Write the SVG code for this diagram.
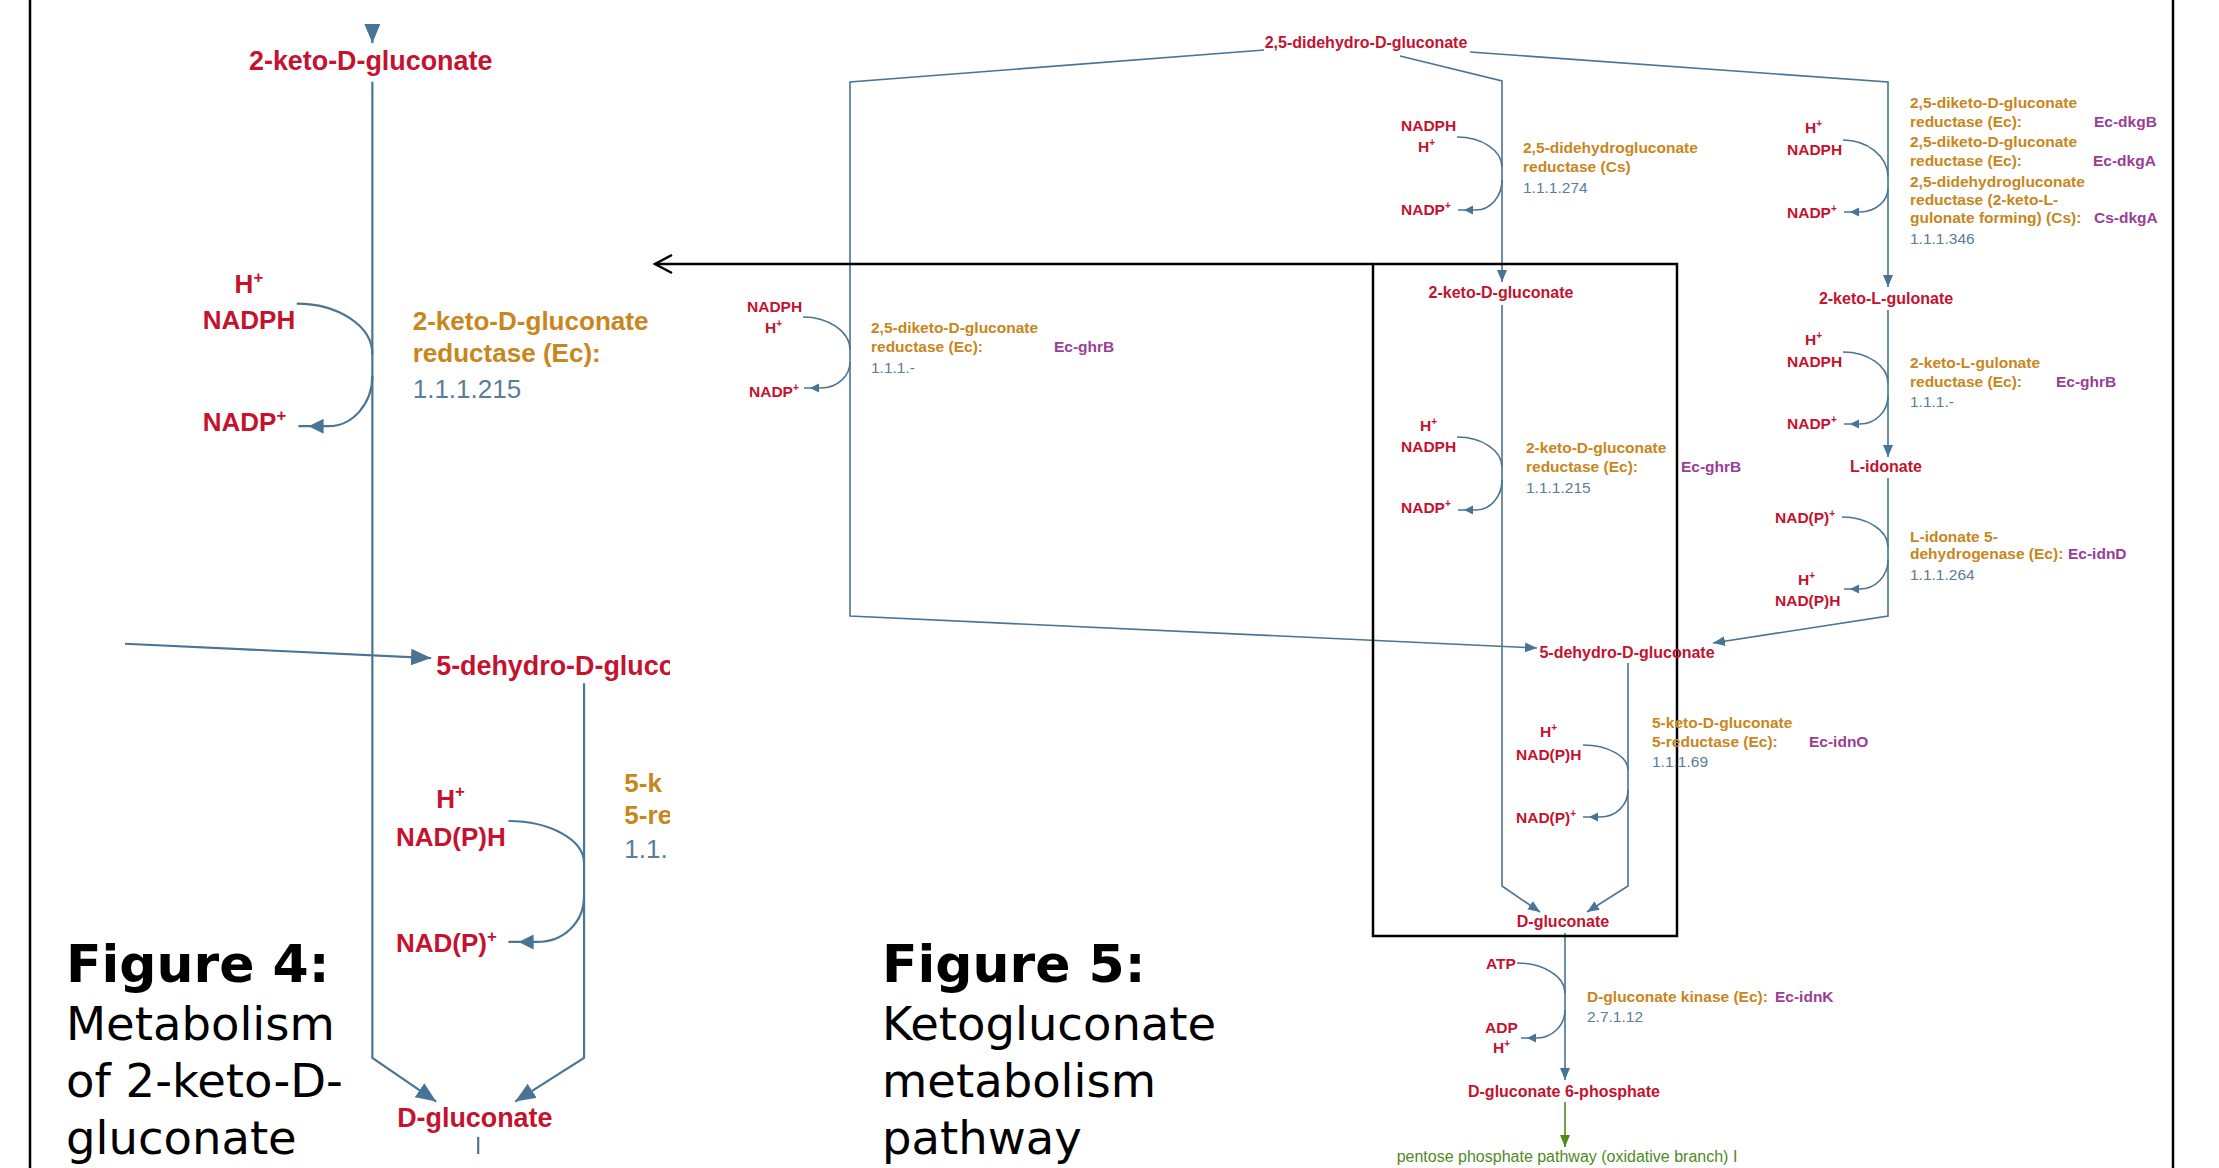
<svg xmlns="http://www.w3.org/2000/svg" width="2219" height="1168" viewBox="0 0 2219 1168">
<style>
.cpd{font-family:'Liberation Sans',Arial,sans-serif;font-weight:bold;font-size:16px;fill:#c4122f;text-anchor:middle}
.cof{font-family:'Liberation Sans',Arial,sans-serif;font-weight:bold;font-size:15.5px;fill:#c4122f}
.enz{font-family:'Liberation Sans',Arial,sans-serif;font-weight:bold;font-size:15.5px;fill:#c8861c}
.gene{font-family:'Liberation Sans',Arial,sans-serif;font-weight:bold;font-size:15.5px;fill:#9a3d96}
.ec{font-family:'Liberation Sans',Arial,sans-serif;font-size:15.5px;fill:#5a7d99}
.pw{font-family:'Liberation Sans',Arial,sans-serif;font-size:16px;fill:#4f8a1e;text-anchor:middle}
.sup{font-size:10px}
.ln{fill:none;stroke:#4a7496;stroke-width:1.6}
.lnz{stroke-width:1.3}
.arr{marker-end:url(#ah)}
.cofarr{marker-end:url(#ch)}
.gln{fill:none;stroke:#4f8a1e;stroke-width:1.6;marker-end:url(#gh)}
.figb{font-family:'DejaVu Sans',Verdana,sans-serif;font-weight:bold;font-size:52px;fill:#000}
.figr{font-family:'DejaVu Sans',Verdana,sans-serif;font-size:46.5px;fill:#000}
.frame{stroke:#000;stroke-width:2.5;fill:none}
</style>
<defs>
<marker id="ah" markerUnits="userSpaceOnUse" viewBox="-12 -5 12 10" markerWidth="12" markerHeight="10" refX="0" refY="0" orient="auto">
<path d="M0,0 L-12,-5 L-12,5 Z" fill="#4a7496"/>
</marker>
<marker id="ch" markerUnits="userSpaceOnUse" viewBox="-16 -5 16 10" markerWidth="16" markerHeight="10" refX="0" refY="0" orient="auto">
<path d="M-6,0 L-15,-4.5 L-15,4.5 Z" fill="#4a7496"/>
</marker>
<marker id="gh" markerUnits="userSpaceOnUse" viewBox="-12 -5 12 10" markerWidth="12" markerHeight="10" refX="0" refY="0" orient="auto">
<path d="M0,0 L-12,-5 L-12,5 Z" fill="#4f8a1e"/>
</marker>
<clipPath id="clipFig4"><rect x="125" y="24" width="545" height="1130"/></clipPath>
</defs>
<rect x="0" y="0" width="2219" height="1168" fill="#fff"/>

<!-- page borders -->
<g id="borders">
<line class="frame" x1="30" y1="0" x2="30" y2="1168"/>
<line class="frame" x1="2173" y1="0" x2="2173" y2="1168"/>
</g>

<!-- Figure 4: magnified view -->
<g id="fig4-view" clip-path="url(#clipFig4)">
<g transform="translate(-2151,-430.6) scale(1.68)">
<g id="fig4-connectors">
<path class="ln lnz arr" d="M1502,250 L1502,282"/>
<path class="ln lnz arr" d="M1502,305 L1502,886 L1540,912"/>
<path class="ln lnz" d="M1457,437 C1481.8,437 1502,450.5 1502,467"/>
<path class="ln lnz cofarr" d="M1502,480 C1502,496.5 1490.3,510 1476,510 L1458,510"/>
<path class="ln lnz arr" d="M1340,638.8 L1537,648"/>
<path class="ln lnz arr" d="M1628,663 L1628,886 L1587,912"/>
<path class="ln lnz" d="M1583,745 C1607.8,745 1628,756.3 1628,770"/>
<path class="ln lnz cofarr" d="M1628,790 C1628,805 1616.2,817 1600,817 L1583,817"/>
<path class="ln lnz" d="M1565,933 L1565,960"/>
</g>
<g id="fig4-2kdg"><text class="cpd" x="1501" y="298">2-keto-D-gluconate</text></g>
<g id="fig4-5dg"><text class="cpd" x="1540" y="658" style="text-anchor:start">5-dehydro-D-gluco</text></g>
<g id="fig4-dglc"><text class="cpd" x="1563" y="927">D-gluconate</text></g>
<g id="fig4-r6">
<text class="cof" x="1420" y="431">H<tspan class="sup" dy="-6">+</tspan></text>
<text class="cof" x="1401" y="452">NADPH</text>
<text class="cof" x="1401" y="513">NADP<tspan class="sup" dy="-6">+</tspan></text>
<text class="enz" x="1526" y="453">2-keto-D-gluconate</text>
<text class="enz" x="1526" y="472">reductase (Ec):</text>
<text class="ec" x="1526" y="493">1.1.1.215</text>
</g>
<g id="fig4-r7">
<text class="cof" x="1540" y="737">H<tspan class="sup" dy="-6">+</tspan></text>
<text class="cof" x="1516" y="760">NAD(P)H</text>
<text class="cof" x="1516" y="823">NAD(P)<tspan class="sup" dy="-6">+</tspan></text>
<text class="enz" x="1652" y="728">5-k</text>
<text class="enz" x="1652" y="747">5-re</text>
<text class="ec" x="1652" y="767">1.1.</text>
</g>
</g>
</g>

<g id="caption-fig4">
<text class="figb" x="66" y="982">Figure 4:</text>
<text class="figr" x="66" y="1040">Metabolism</text>
<text class="figr" x="66" y="1097">of 2-keto-D-</text>
<text class="figr" x="66" y="1154">gluconate</text>
</g>
<g id="caption-fig5">
<text class="figb" x="882" y="982">Figure 5:</text>
<text class="figr" x="882" y="1040">Ketogluconate</text>
<text class="figr" x="882" y="1097">metabolism</text>
<text class="figr" x="882" y="1154">pathway</text>
</g>

<!-- Figure 5 pathway -->
<g id="connectors">
<path class="ln arr" d="M1264,50 L850,82 L850,616 L1537,648"/>
<path class="ln arr" d="M1400,56 L1502,81 L1502,282"/>
<path class="ln arr" d="M1470,52 L1888,82 L1888,287"/>
<path class="ln arr" d="M1888,310 L1888,457"/>
<path class="ln arr" d="M1888,478 L1888,616 L1713,643"/>
<path class="ln arr" d="M1502,305 L1502,886 L1540,912"/>
<path class="ln arr" d="M1628,663 L1628,886 L1587,912"/>
<path class="ln arr" d="M1565,933 L1565,1080"/>
<path class="gln" d="M1565,1102 L1565,1147"/>
<!-- cofactor arcs -->
<path class="ln" d="M803,317 C828.9,317 850,331.9 850,350"/>
<path class="ln cofarr" d="M850,362 C850,376.3 837,388 821,388 L804,388"/>
<path class="ln" d="M1457,137 C1481.8,137 1502,150.5 1502,167"/>
<path class="ln cofarr" d="M1502,180 C1502,196.5 1490.3,210 1476,210 L1458,210"/>
<path class="ln" d="M1843,140 C1867.8,140 1888,156.7 1888,177"/>
<path class="ln cofarr" d="M1888,188 C1888,201.2 1875.4,212 1860,212 L1844,212"/>
<path class="ln" d="M1843,352 C1867.8,352 1888,366 1888,383"/>
<path class="ln cofarr" d="M1888,396 C1888,411.4 1875.4,424 1860,424 L1844,424"/>
<path class="ln" d="M1842,517 C1867.3,517 1888,530.5 1888,547"/>
<path class="ln cofarr" d="M1888,560 C1888,576 1875.4,589 1860,589 L1844,589"/>
<path class="ln" d="M1457,437 C1481.8,437 1502,450.5 1502,467"/>
<path class="ln cofarr" d="M1502,480 C1502,496.5 1490.3,510 1476,510 L1458,510"/>
<path class="ln" d="M1583,745 C1607.8,745 1628,756.3 1628,770"/>
<path class="ln cofarr" d="M1628,790 C1628,805 1616.2,817 1600,817 L1583,817"/>
<path class="ln" d="M1517,963 C1543.4,963 1565,976.5 1565,993"/>
<path class="ln cofarr" d="M1565,1010 C1565,1025.4 1552,1038 1537,1038 L1521,1038"/>
</g>

<g id="zoom-box">
<rect class="frame" x="1373" y="264" width="304" height="672"/>
<line class="frame" x1="1373" y1="264" x2="655" y2="264"/>
<polyline class="frame" points="672,255 655,264 672,273"/>
</g>

<g id="n-25ddg"><text class="cpd" x="1366" y="48">2,5-didehydro-D-gluconate</text></g>
<g id="n-2kdg"><text class="cpd" x="1501" y="298">2-keto-D-gluconate</text></g>
<g id="n-2klg"><text class="cpd" x="1886" y="304">2-keto-L-gulonate</text></g>
<g id="n-lido"><text class="cpd" x="1886" y="472">L-idonate</text></g>
<g id="n-5dg"><text class="cpd" x="1627" y="658">5-dehydro-D-gluconate</text></g>
<g id="n-dglc"><text class="cpd" x="1563" y="927">D-gluconate</text></g>
<g id="n-dg6p"><text class="cpd" x="1564" y="1097">D-gluconate 6-phosphate</text></g>
<g id="n-ppp"><text class="pw" x="1567" y="1162">pentose phosphate pathway (oxidative branch) I</text></g>

<g id="r1-ghrB">
<text class="cof" x="747" y="312">NADPH</text>
<text class="cof" x="765" y="333">H<tspan class="sup" dy="-6">+</tspan></text>
<text class="cof" x="749" y="397">NADP<tspan class="sup" dy="-6">+</tspan></text>
<text class="enz" x="871" y="333">2,5-diketo-D-gluconate</text>
<text class="enz" x="871" y="352">reductase (Ec):</text>
<text class="gene" x="1054" y="352">Ec-ghrB</text>
<text class="ec" x="871" y="373">1.1.1.-</text>
</g>
<g id="r2-cs">
<text class="cof" x="1401" y="131">NADPH</text>
<text class="cof" x="1418" y="152">H<tspan class="sup" dy="-6">+</tspan></text>
<text class="cof" x="1401" y="215">NADP<tspan class="sup" dy="-6">+</tspan></text>
<text class="enz" x="1523" y="153">2,5-didehydrogluconate</text>
<text class="enz" x="1523" y="172">reductase (Cs)</text>
<text class="ec" x="1523" y="193">1.1.1.274</text>
</g>
<g id="r3-dkg">
<text class="cof" x="1805" y="133">H<tspan class="sup" dy="-6">+</tspan></text>
<text class="cof" x="1787" y="155">NADPH</text>
<text class="cof" x="1787" y="218">NADP<tspan class="sup" dy="-6">+</tspan></text>
<text class="enz" x="1910" y="108">2,5-diketo-D-gluconate</text>
<text class="enz" x="1910" y="127">reductase (Ec):</text>
<text class="gene" x="2094" y="127">Ec-dkgB</text>
<text class="enz" x="1910" y="147">2,5-diketo-D-gluconate</text>
<text class="enz" x="1910" y="166">reductase (Ec):</text>
<text class="gene" x="2093" y="166">Ec-dkgA</text>
<text class="enz" x="1910" y="187">2,5-didehydrogluconate</text>
<text class="enz" x="1910" y="205">reductase (2-keto-L-</text>
<text class="enz" x="1910" y="223">gulonate forming) (Cs):</text>
<text class="gene" x="2094" y="223">Cs-dkgA</text>
<text class="ec" x="1910" y="244">1.1.1.346</text>
</g>
<g id="r4-ghrB">
<text class="cof" x="1805" y="345">H<tspan class="sup" dy="-6">+</tspan></text>
<text class="cof" x="1787" y="367">NADPH</text>
<text class="cof" x="1787" y="429">NADP<tspan class="sup" dy="-6">+</tspan></text>
<text class="enz" x="1910" y="368">2-keto-L-gulonate</text>
<text class="enz" x="1910" y="387">reductase (Ec):</text>
<text class="gene" x="2056" y="387">Ec-ghrB</text>
<text class="ec" x="1910" y="407">1.1.1.-</text>
</g>
<g id="r5-idnD">
<text class="cof" x="1775" y="523">NAD(P)<tspan class="sup" dy="-6">+</tspan></text>
<text class="cof" x="1798" y="585">H<tspan class="sup" dy="-6">+</tspan></text>
<text class="cof" x="1775" y="606">NAD(P)H</text>
<text class="enz" x="1910" y="542">L-idonate 5-</text>
<text class="enz" x="1910" y="559">dehydrogenase (Ec):</text>
<text class="gene" x="2068" y="559">Ec-idnD</text>
<text class="ec" x="1910" y="580">1.1.1.264</text>
</g>
<g id="r6-ghrB">
<text class="cof" x="1420" y="431">H<tspan class="sup" dy="-6">+</tspan></text>
<text class="cof" x="1401" y="452">NADPH</text>
<text class="cof" x="1401" y="513">NADP<tspan class="sup" dy="-6">+</tspan></text>
<text class="enz" x="1526" y="453">2-keto-D-gluconate</text>
<text class="enz" x="1526" y="472">reductase (Ec):</text>
<text class="gene" x="1681" y="472">Ec-ghrB</text>
<text class="ec" x="1526" y="493">1.1.1.215</text>
</g>
<g id="r7-idnO">
<text class="cof" x="1540" y="737">H<tspan class="sup" dy="-6">+</tspan></text>
<text class="cof" x="1516" y="760">NAD(P)H</text>
<text class="cof" x="1516" y="823">NAD(P)<tspan class="sup" dy="-6">+</tspan></text>
<text class="enz" x="1652" y="728">5-keto-D-gluconate</text>
<text class="enz" x="1652" y="747">5-reductase (Ec):</text>
<text class="gene" x="1809" y="747">Ec-idnO</text>
<text class="ec" x="1652" y="767">1.1.1.69</text>
</g>
<g id="r8-idnK">
<text class="cof" x="1486" y="969">ATP</text>
<text class="cof" x="1485" y="1033">ADP</text>
<text class="cof" x="1493" y="1053">H<tspan class="sup" dy="-6">+</tspan></text>
<text class="enz" x="1587" y="1002">D-gluconate kinase (Ec):</text>
<text class="gene" x="1775" y="1002">Ec-idnK</text>
<text class="ec" x="1587" y="1022">2.7.1.12</text>
</g>
</svg>
